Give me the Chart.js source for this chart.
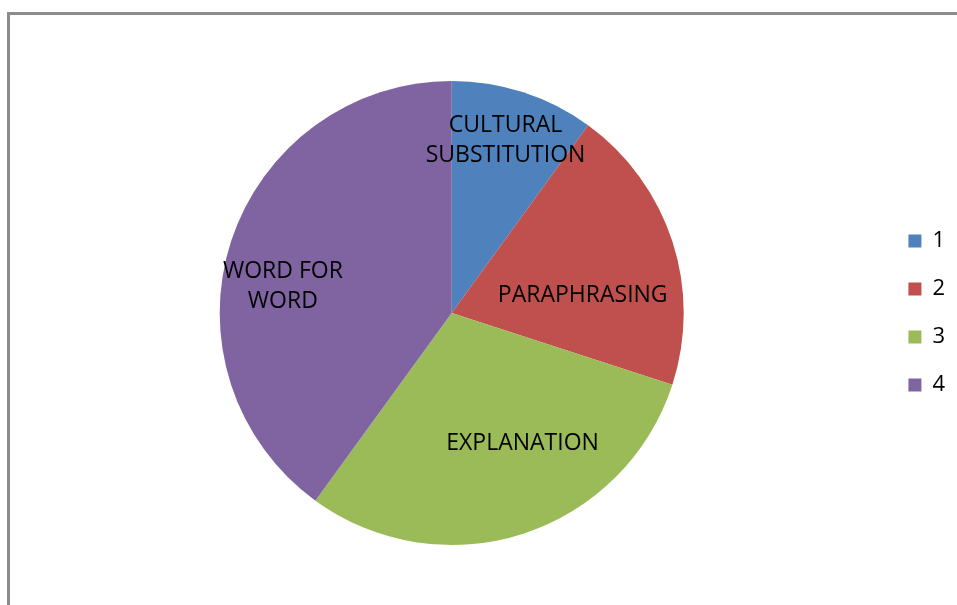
<!DOCTYPE html>
<html>
<head>
<meta charset="utf-8">
<script src="https://cdn.jsdelivr.net/npm/chart.js@4.4.1/dist/chart.umd.min.js"></script>
<style>
  html, body { margin: 0; padding: 0; background: #fff; overflow: hidden; }
  #frame {
    position: absolute; left: 7px; top: 12px;
    width: 1000px; height: 700px;
    border: 3px solid #8c8c8c;
  }
  #myChart { position: absolute; left: 0; top: 0; }
</style>
</head>
<body>
<div id="frame"></div>
<canvas id="myChart" width="957" height="605"></canvas>
<script>
// legend categories and their shares
var labels = ['1', '2', '3', '4'];
var values = [10, 20, 30, 40];
var sliceNames = [['CULTURAL', 'SUBSTITUTION'], ['PARAPHRASING'], ['EXPLANATION'], ['WORD FOR', 'WORD']];
var colors = ['#4f81bd', '#c0504d', '#9bbb59', '#8064a2'];

var fontFamily = '"Open Sans", sans-serif';

// writes the names inside each slice (dist = share of radius, shift = degrees off the middle)
var sliceLabels = {
  id: 'sliceLabels',
  afterDatasetsDraw: function(chart, args, opts) {
    var ctx = chart.ctx;
    var meta = chart.getDatasetMeta(0);
    ctx.save();
    ctx.font = '23px ' + fontFamily;
    ctx.fillStyle = '#000';
    ctx.textAlign = 'center';
    ctx.textBaseline = 'middle';
    meta.data.forEach(function(arc, i) {
      var p = arc.getProps(['x', 'y', 'startAngle', 'endAngle', 'outerRadius'], true);
      var place = opts.place[i];
      var a = (p.startAngle + p.endAngle) / 2 + place.shift * Math.PI / 180;
      var r = p.outerRadius * place.dist;
      var cx = p.x + Math.cos(a) * r;
      var cy = p.y + Math.sin(a) * r;
      var lines = sliceNames[i];
      lines.forEach(function(line, j) {
        ctx.fillText(line, cx, cy + (j - (lines.length - 1) / 2) * opts.lineHeight);
      });
    });
    ctx.restore();
  }
};

var ctx = document.getElementById('myChart').getContext('2d');
var chart = new Chart(ctx, {
  type: 'pie',
  data: {
    labels: labels,
    datasets: [{
      data: values,
      backgroundColor: colors,
      borderWidth: 0
    }]
  },
  options: {
    responsive: false,
    animation: false,
    layout: { padding: { top: 81, bottom: 60, left: 21, right: 2 } },
    plugins: {
      tooltip: { enabled: false },
      legend: {
        position: 'right',
        labels: {
          boxWidth: 13,
          boxHeight: 13,
          padding: 26,
          color: '#000',
          font: { family: fontFamily, size: 22 }
        }
      },
      sliceLabels: {
        lineHeight: 30,
        place: [
          { dist: 0.78, shift: -0.7 },
          { dist: 0.57, shift: 10.2 },
          { dist: 0.64, shift: -10.5 },
          { dist: 0.737, shift: -8.9 }
        ]
      }
    }
  },
  plugins: [sliceLabels]
});
</script>
</body>
</html>
